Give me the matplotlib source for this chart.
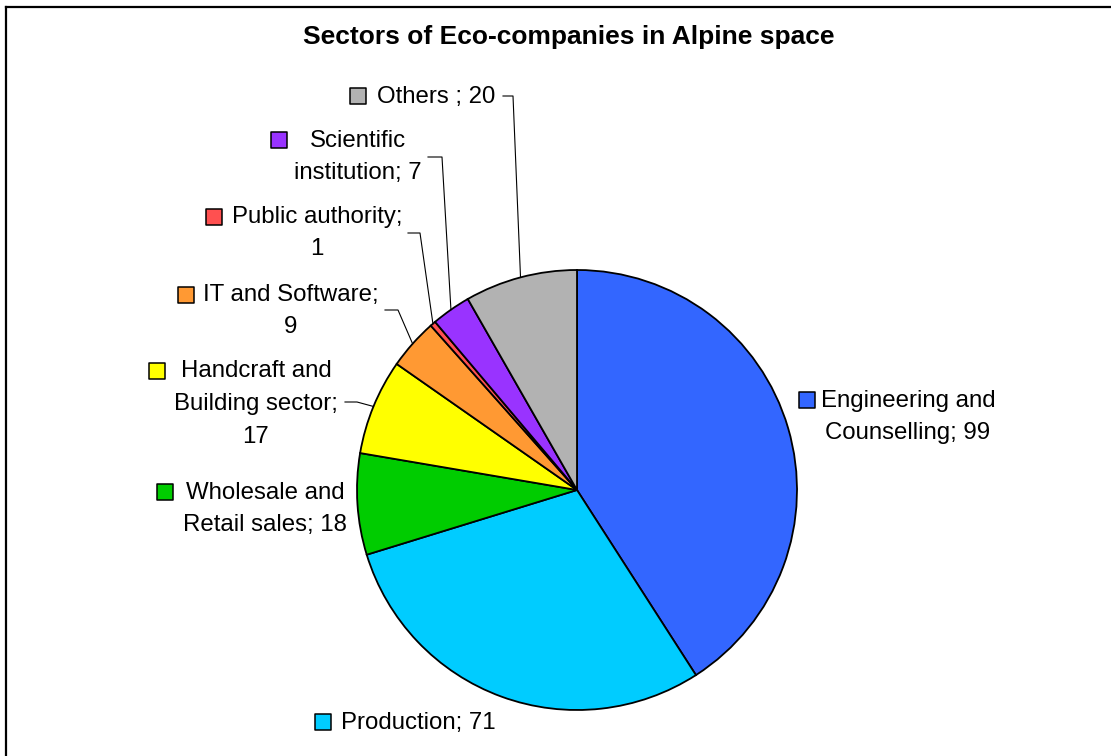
import numpy as np
import matplotlib
matplotlib.use("Agg")
import matplotlib.pyplot as plt

plt.rcParams['font.family'] = ['Liberation Sans', 'DejaVu Sans']

sectors = ["Engineering and\nCounselling", "Production", "Wholesale and\nRetail sales",
           "Handcraft and\nBuilding sector;\n", "IT and Software;\n", "Public authority;\n",
           "Scientific\ninstitution", "Others "]
counts = [99, 71, 18, 17, 9, 1, 7, 20]
colors = ["#3366FF", "#00CCFF", "#00CC00", "#FFFF00", "#FF9933", "#FF5050", "#9933FF", "#B2B2B2"]

W, H = 1111, 756
CX, CY, R = 577, 490, 220  # pie centre / radius in pixels

# label layout in pixels: text centre, key square, leader elbow (None = no leader)
text_pos = [(908, 417), (418, 723), (265, 509), (256, 404), (291, 311), (317, 233), (358, 157), (436, 97)]
key_pos = [(807, 400), (323, 722), (165, 492), (157, 371), (186, 295), (214, 217), (279, 140), (358, 96)]
elbow = [None, None, None, (345, 357, 402), (385, 398, 310), (408, 420, 233), (428, 442, 157), (503, 513, 96)]


def px(x, y):
    # pixel coords (origin top-left) -> data coords of the pie axes
    return (x - CX) / R, (CY - y) / R


fig = plt.figure(figsize=(W / 100, H / 100), dpi=100)
ax = fig.add_axes([0, 0, 1, 1])
ax.axis('off')

wedges, _ = ax.pie(counts, colors=colors, startangle=90, counterclock=False, radius=1,
                   wedgeprops=dict(edgecolor='black', linewidth=1.3))
ax.set_xlim(-CX / R, (W - CX) / R)
ax.set_ylim((CY - H) / R, CY / R)
ax.set_aspect('auto')

for i, w in enumerate(wedges):
    lab = sectors[i]
    if lab.endswith("\n"):
        txt = lab + str(counts[i])
    else:
        txt = lab + "; " + str(counts[i])
    tx, ty = px(*text_pos[i])
    ax.text(tx, ty, txt, ha='center', va='center', multialignment='center',
            fontsize=17.3, linespacing=1.62)
    kx, ky = px(*key_pos[i])
    ax.scatter([kx], [ky], marker='s', s=125, color=colors[i], edgecolors='black', linewidths=1.1, zorder=5)
    if elbow[i] is not None:
        x0, x1, y0 = elbow[i]
        mid = np.deg2rad((w.theta1 + w.theta2) / 2)
        ex, ey = np.cos(mid), np.sin(mid)
        ax0, ay0 = px(x0, y0)
        ax1, ay1 = px(x1, y0)
        ax.plot([ax0, ax1, ex], [ay0, ay1, ey], color='black', linewidth=0.8)

fig.text(569 / W, 1 - 37 / H, "Sectors of Eco-companies in Alpine space",
         ha='center', va='center', fontsize=19, fontweight='bold')

# chart frame (top and left edges visible)
fig.add_artist(plt.Line2D([6 / W, 1], [1 - 7 / H, 1 - 7 / H], color='black', linewidth=1.6))
fig.add_artist(plt.Line2D([6 / W, 6 / W], [1 - 7 / H, 0], color='black', linewidth=1.6))

fig.savefig("out.png", dpi=100, facecolor='white')
